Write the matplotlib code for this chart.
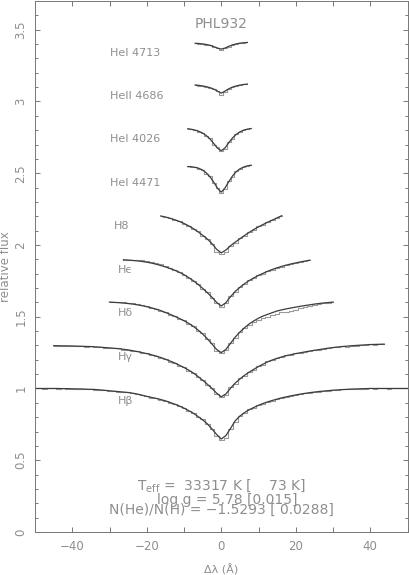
import numpy as np
import matplotlib
matplotlib.use("Agg")
import matplotlib.pyplot as plt
from matplotlib.ticker import MultipleLocator

plt.rcParams['mathtext.default'] = 'regular'
plt.rcParams['axes.unicode_minus'] = True

TXT = '#8e8e8e'
MOD = '#3c3c3c'
OBS = '#9a9a9a'

# each profile: start wavelength offset, bin step (A), model flux, observed flux
hei4713_x0, hei4713_dx = -7.0, 1.0
hei4713_mod = [3.405, 3.404, 3.401, 3.397, 3.391, 3.382, 3.372, 3.365, 3.372, 3.384, 3.394, 3.401, 3.406, 3.409, 3.411]
hei4713_obs = [3.406, 3.403, 3.402, 3.396, 3.392, 3.380, 3.373, 3.362, 3.374, 3.382, 3.396, 3.400, 3.407, 3.408, 3.412]

heii4686_x0, heii4686_dx = -7.0, 1.0
heii4686_mod = [3.115, 3.112, 3.108, 3.103, 3.096, 3.086, 3.072, 3.058, 3.072, 3.088, 3.100, 3.108, 3.114, 3.118, 3.121]
heii4686_obs = [3.116, 3.111, 3.109, 3.102, 3.097, 3.085, 3.070, 3.045, 3.064, 3.090, 3.099, 3.109, 3.113, 3.119, 3.120]

hei4026_x0, hei4026_dx = -9.0, 1.0
hei4026_mod = [2.810, 2.806, 2.800, 2.792, 2.780, 2.762, 2.738, 2.707, 2.674, 2.657, 2.676, 2.712, 2.745, 2.770, 2.788, 2.800, 2.807, 2.811]
hei4026_obs = [2.811, 2.805, 2.801, 2.790, 2.782, 2.758, 2.742, 2.700, 2.680, 2.652, 2.670, 2.718, 2.740, 2.772, 2.786, 2.802, 2.806, 2.812]

hei4471_x0, hei4471_dx = -9.0, 1.0
hei4471_mod = [2.546, 2.545, 2.541, 2.534, 2.522, 2.502, 2.474, 2.437, 2.395, 2.368, 2.397, 2.440, 2.480, 2.510, 2.530, 2.543, 2.551, 2.556]
hei4471_obs = [2.547, 2.544, 2.542, 2.532, 2.524, 2.498, 2.478, 2.430, 2.400, 2.362, 2.390, 2.446, 2.476, 2.514, 2.528, 2.545, 2.550, 2.557]

h8_x0, h8_dx = -16.25, 1.25
h8_mod = [2.202, 2.195, 2.186, 2.176, 2.164, 2.150, 2.133, 2.114, 2.092, 2.068, 2.042, 2.010, 1.970, 1.945,
          1.965, 1.995, 2.020, 2.043, 2.066, 2.088, 2.108, 2.126, 2.143, 2.159, 2.174, 2.189, 2.204]
h8_obs = [2.204, 2.194, 2.188, 2.174, 2.166, 2.147, 2.135, 2.110, 2.095, 2.064, 2.045, 2.004, 1.950, 1.940,
          1.948, 1.992, 2.016, 2.046, 2.062, 2.092, 2.104, 2.130, 2.140, 2.162, 2.172, 2.191, 2.203]

heps_x0, heps_dx = -26.25, 1.25
heps_mod = [1.897, 1.895, 1.892, 1.889, 1.885, 1.880, 1.874, 1.866, 1.857, 1.847, 1.836, 1.824, 1.810, 1.793,
            1.773, 1.751, 1.726, 1.698, 1.668, 1.636, 1.600, 1.575,
            1.598, 1.640, 1.676, 1.705, 1.730, 1.752, 1.771, 1.788, 1.803, 1.817, 1.830, 1.841, 1.851, 1.860,
            1.868, 1.875, 1.882, 1.888, 1.894]
heps_obs = [1.898, 1.897, 1.897, 1.895, 1.892, 1.888, 1.882, 1.874, 1.865, 1.854, 1.841, 1.826, 1.811, 1.790,
            1.772, 1.747, 1.727, 1.694, 1.670, 1.630, 1.598, 1.570,
            1.594, 1.646, 1.672, 1.708, 1.727, 1.755, 1.768, 1.791, 1.800, 1.819, 1.828, 1.843, 1.849, 1.862,
            1.866, 1.877, 1.880, 1.889, 1.893]

hdel_x0, hdel_dx = -30.0, 1.25
hdel_mod = [1.602, 1.600, 1.598, 1.595, 1.592, 1.588, 1.583, 1.577, 1.570, 1.562, 1.553, 1.543, 1.530, 1.517,
            1.503, 1.488, 1.472, 1.454, 1.433, 1.408, 1.380, 1.347, 1.310, 1.272, 1.250,
            1.272, 1.315, 1.358, 1.393, 1.423, 1.450, 1.471, 1.490, 1.505, 1.517, 1.529, 1.540, 1.548, 1.555,
            1.561, 1.567, 1.573, 1.578, 1.583, 1.588, 1.592, 1.596, 1.599, 1.602]
hdel_obs = [1.603, 1.606, 1.606, 1.603, 1.599, 1.594, 1.588, 1.581, 1.573, 1.563, 1.555, 1.542, 1.532, 1.515,
            1.505, 1.485, 1.474, 1.450, 1.436, 1.403, 1.384, 1.342, 1.314, 1.262, 1.246,
            1.268, 1.320, 1.352, 1.392, 1.418, 1.442, 1.463, 1.476, 1.488, 1.500, 1.510, 1.522, 1.530, 1.536,
            1.538, 1.548, 1.560, 1.568, 1.576, 1.585, 1.590, 1.595, 1.598, 1.601]

hgam_x0, hgam_dx = -45.0, 1.25
hgam_mod = [1.298, 1.298, 1.297, 1.297, 1.296, 1.295, 1.294, 1.293, 1.292, 1.290, 1.288, 1.285, 1.283, 1.280,
            1.277, 1.273, 1.269, 1.263, 1.257, 1.250, 1.243, 1.235, 1.226, 1.216, 1.204, 1.191, 1.178, 1.162,
            1.146, 1.128, 1.108, 1.084, 1.058, 1.030, 1.000, 0.968, 0.942,
            0.962, 1.002, 1.038, 1.066, 1.092, 1.114, 1.134, 1.153, 1.170, 1.186, 1.199, 1.210, 1.220, 1.229,
            1.236, 1.243, 1.249, 1.255, 1.261, 1.266, 1.271, 1.276, 1.281, 1.285, 1.289, 1.292, 1.295, 1.298,
            1.300, 1.302, 1.304, 1.306, 1.307, 1.308, 1.309]
hgam_obs = [1.299, 1.297, 1.298, 1.296, 1.297, 1.294, 1.295, 1.292, 1.293, 1.289, 1.289, 1.284, 1.284, 1.279,
            1.279, 1.271, 1.271, 1.262, 1.259, 1.248, 1.245, 1.232, 1.229, 1.213, 1.207, 1.188, 1.181, 1.159,
            1.149, 1.124, 1.111, 1.080, 1.062, 1.024, 1.004, 0.962, 0.938,
            0.956, 1.008, 1.034, 1.070, 1.088, 1.117, 1.131, 1.156, 1.167, 1.189, 1.197, 1.212, 1.218, 1.231,
            1.234, 1.245, 1.247, 1.257, 1.259, 1.268, 1.269, 1.278, 1.279, 1.287, 1.287, 1.293, 1.292, 1.299,
            1.298, 1.303, 1.303, 1.307, 1.306, 1.309, 1.310]

hbet_x0, hbet_dx = -50.0, 1.25
hbet_mod = [1.000, 1.000, 1.000, 1.000, 1.000, 1.000, 0.999, 0.999, 0.998, 0.997, 0.997, 0.995, 0.994, 0.993,
            0.990, 0.987, 0.984, 0.981, 0.978, 0.975, 0.972, 0.967, 0.961, 0.953, 0.945, 0.938, 0.931, 0.923,
            0.914, 0.903, 0.891, 0.878, 0.863, 0.846, 0.828, 0.805, 0.782, 0.754, 0.718, 0.680, 0.648,
            0.672, 0.722, 0.775, 0.808, 0.832, 0.852, 0.868, 0.883, 0.896, 0.907, 0.917, 0.926, 0.935, 0.942,
            0.949, 0.955, 0.961, 0.966, 0.971, 0.975, 0.979, 0.982, 0.985, 0.988, 0.990, 0.992, 0.994, 0.996,
            0.997, 0.998, 0.999, 1.000, 1.000, 1.000, 1.000, 1.000, 1.000, 1.000, 1.000, 1.000]
hbet_obs = [1.001, 1.000, 0.999, 1.001, 1.000, 0.998, 1.000, 0.998, 0.999, 0.996, 0.998, 0.994, 0.995, 0.992,
            0.991, 0.986, 0.985, 0.980, 0.979, 0.974, 0.973, 0.966, 0.962, 0.952, 0.946, 0.936, 0.932, 0.921,
            0.915, 0.901, 0.892, 0.876, 0.864, 0.843, 0.829, 0.802, 0.784, 0.750, 0.716, 0.670, 0.641,
            0.652, 0.716, 0.768, 0.810, 0.830, 0.855, 0.866, 0.884, 0.895, 0.908, 0.916, 0.927, 0.934, 0.943,
            0.948, 0.956, 0.960, 0.967, 0.970, 0.976, 0.978, 0.983, 0.984, 0.989, 0.989, 0.993, 0.993, 0.997,
            0.996, 0.999, 0.998, 1.001, 0.999, 1.000, 1.001, 0.999, 1.000, 1.001, 1.000, 1.000]

profiles = [
    (hei4713_x0, hei4713_dx, hei4713_mod, hei4713_obs),
    (heii4686_x0, heii4686_dx, heii4686_mod, heii4686_obs),
    (hei4026_x0, hei4026_dx, hei4026_mod, hei4026_obs),
    (hei4471_x0, hei4471_dx, hei4471_mod, hei4471_obs),
    (h8_x0, h8_dx, h8_mod, h8_obs),
    (heps_x0, heps_dx, heps_mod, heps_obs),
    (hdel_x0, hdel_dx, hdel_mod, hdel_obs),
    (hgam_x0, hgam_dx, hgam_mod, hgam_obs),
    (hbet_x0, hbet_dx, hbet_mod, hbet_obs),
]

line_names = ['HeI 4713', 'HeII 4686', 'HeI 4026', 'HeI 4471', 'H8', 'H\u03f5', 'H\u03b4', 'H\u03b3', 'H\u03b2']
label_x = [-29.8, -29.8, -29.8, -29.8, -28.9, -27.7, -27.7, -27.7, -27.7]
label_y = [3.338, 3.035, 2.736, 2.434, 2.131, 1.827, 1.524, 1.222, 0.914]

fig = plt.figure(figsize=(4.09, 5.75), dpi=100)
ax = fig.add_axes([35/409, 43/575, 372.5/409, 531/575])

for x0, dx, mod, obs in profiles:
    xm = x0 + dx*np.arange(len(mod))
    xo = x0 + dx*np.arange(len(obs))
    ax.step(xo, obs, where='mid', color=OBS, lw=0.8)
    ax.plot(xm, mod, color=MOD, lw=0.9)

for name, lx, ly in zip(line_names, label_x, label_y):
    ax.text(lx, ly, name, color=TXT, fontsize=8, ha='left', va='center')

ax.text(0, 3.54, 'PHL932', color=TXT, fontsize=10, ha='center', va='center')
ax.text(0.1, 0.322, 'T$_{eff}$ =  33317 K [    73 K]', color=TXT, fontsize=10, ha='center', va='center')
ax.text(1.7, 0.226, 'log g = 5.78 [0.015]', color=TXT, fontsize=10, ha='center', va='center')
ax.text(0, 0.152, 'N(He)/N(H) = \u22121.5293 [ 0.0288]', color=TXT, fontsize=10, ha='center', va='center')

ax.set_xlim(-50, 50)
ax.set_ylim(0, 3.7)
ax.xaxis.set_major_locator(MultipleLocator(20))
ax.xaxis.set_minor_locator(MultipleLocator(10))
ax.yaxis.set_major_locator(MultipleLocator(0.5))
ax.yaxis.set_minor_locator(MultipleLocator(0.1))
ax.tick_params(which='both', direction='in', top=True, right=True, colors='#777777',
               labelcolor=TXT, labelsize=8.5, width=0.7)
ax.tick_params(which='major', length=3.6, pad=5.5)
ax.tick_params(axis='x', which='minor', length=3.6)
ax.tick_params(axis='y', which='minor', length=2.0)
for lab in ax.get_yticklabels():
    lab.set_rotation(90)
    lab.set_va('center')
ax.yaxis.set_major_formatter(plt.FuncFormatter(lambda v, p: '%g' % v))
for sp in ax.spines.values():
    sp.set_color('#777777')
    sp.set_linewidth(0.7)

ax.set_xlabel('\u0394\u03bb (\u00c5)', color=TXT, fontsize=8, labelpad=8)
ax.set_ylabel('relative flux', color=TXT, fontsize=8.5)
ax.yaxis.set_label_coords(-23/372.5, 0.5)

fig.savefig('out.png', dpi=100)
